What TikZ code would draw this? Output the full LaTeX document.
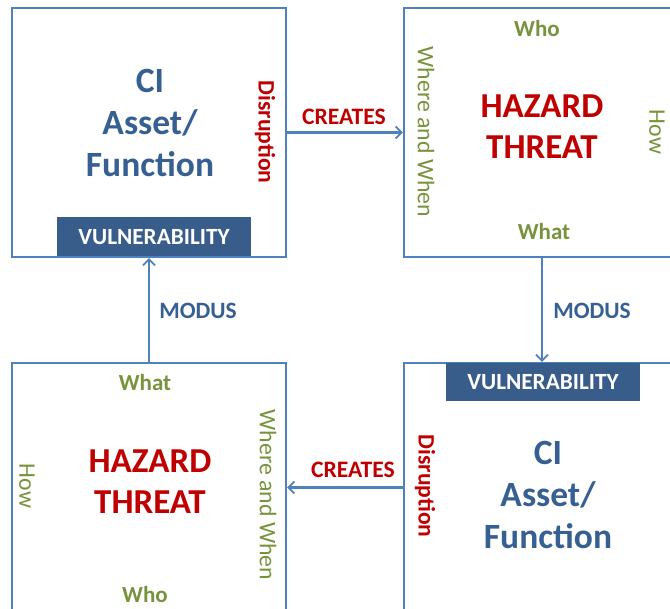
\documentclass[tikz,border=0pt]{standalone}
\usepackage{fontspec}
\setmainfont{Carlito}
\usetikzlibrary{arrows.meta}
\definecolor{boxblue}{RGB}{79,129,189}
\definecolor{barblue}{RGB}{56,93,138}
\definecolor{ciblue}{RGB}{55,96,146}
\definecolor{hzred}{RGB}{192,0,0}
\definecolor{olive}{RGB}{119,147,60}
\begin{document}
\begin{tikzpicture}[x=1pt,y=-1pt,
  bigbox/.style={draw=boxblue,line width=2.2pt,minimum width=274pt,minimum height=249pt,inner sep=0pt},
  vbar/.style={fill=barblue,text=white,font=\fontsize{23.2}{26}\selectfont\bfseries,minimum width=194pt,minimum height=39pt,inner sep=0pt},
  citext/.style={text=ciblue,font=\fontsize{35.5}{42}\selectfont\bfseries,align=center},
  hztext/.style={text=hzred,font=\fontsize{35}{41}\selectfont\bfseries,align=center},
  redlab/.style={text=hzred,font=\fontsize{23.6}{27}\selectfont\bfseries},
  bluelab/.style={text=ciblue,font=\fontsize{23.4}{27}\selectfont\bfseries},
  wlab/.style={text=olive,font=\fontsize{23}{27}\selectfont\bfseries},
  wlabr/.style={text=olive,font=\fontsize{23.8}{27}\selectfont},
  arr/.style={draw=boxblue,line width=2.2pt,-{Straight Barb[length=6pt,width=12pt,line width=1.8pt]}}
]
\clip (0,0) rectangle (670,609);
\fill[white] (0,0) rectangle (670,609);
% boxes
\node[bigbox] (tl) at (149,132.5) {};
\node[bigbox,minimum width=276pt] (tr) at (542,132.5) {};
\node[bigbox] (bl) at (149,487.5) {};
\node[bigbox,minimum width=276pt] (br) at (542,487.5) {};
% top-left contents
\node[citext] (tlci) at (150,123) {CI\\Asset/\\Function};
\node[redlab,rotate=-90] (tldis) at (265,132) {Disruption};
\node[vbar] (tlvul) at (154,237) {VULNERABILITY};
% top-right contents
\node[wlab] (trwho) at (537,29) {Who};
\node[hztext] (trhz) at (542,127) {HAZARD\\THREAT};
\node[wlab] (trwhat) at (544,232) {What};
\node[wlabr,rotate=-90] (trww) at (426,132) {Where and When};
\node[wlabr,rotate=-90] (trhow) at (657,132) {How};
% bottom-left contents
\node[wlab] (blwhat) at (145,383) {What};
\node[hztext] (blhz) at (150,482) {HAZARD\\THREAT};
\node[wlabr,rotate=-90] (blhow) at (27,486) {How};
\node[wlabr,rotate=-90] (blww) at (268,495) {Where and When};
\node[wlab] (blwho) at (145,595) {Who};
% bottom-right contents
\node[vbar,minimum height=38pt] (brvul) at (543,382) {VULNERABILITY};
\node[redlab,rotate=-90] (brdis) at (425,486) {Disruption};
\node[citext] (brci) at (548,495) {CI\\Asset/\\Function};
% connectors
\draw[arr] (tl.east) -- (tr.west);
\draw[arr] (tr.south) -- (br.north);
\draw[arr] (br.west) -- (bl.east);
\draw[arr] (bl.north) -- (tl.south);
% connector labels
\node[redlab] (cr1) at (344,117) {CREATES};
\node[redlab] (cr2) at (353,470) {CREATES};
\node[bluelab] (mo1) at (198,311) {MODUS};
\node[bluelab] (mo2) at (592,311) {MODUS};
\end{tikzpicture}
\end{document}
